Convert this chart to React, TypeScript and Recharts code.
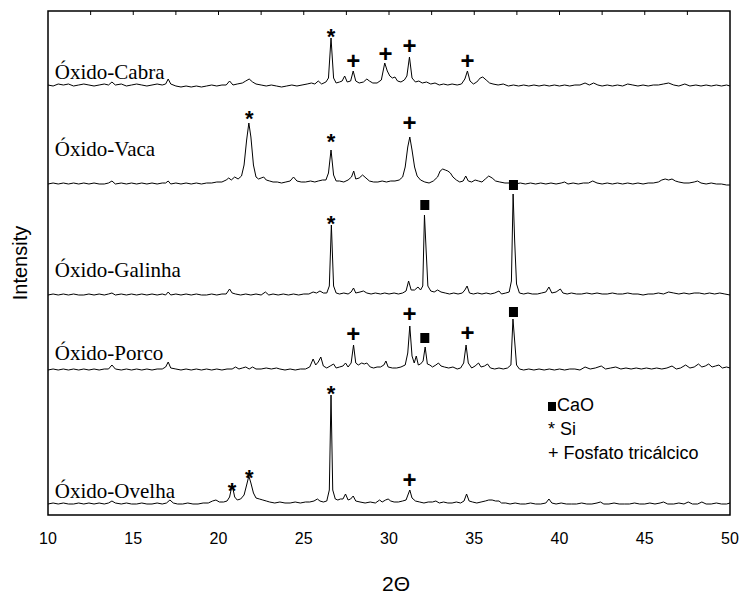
import React from 'react';
import { ComposedChart, Line, Scatter, XAxis, YAxis, ReferenceArea, ReferenceLine } from 'recharts';

// 2θ / intensity (a.u., above each pattern's own baseline)
const cabra = [
  [10.0,1],[10.3,0],[10.6,2],[10.9,1],[11.2,2],[11.5,0],[11.8,1],[12.1,2],[12.4,1],[12.7,0],[13.0,1],[13.3,2],[13.55,1],[13.75,4],[13.95,1],[14.3,2],[14.6,0],[14.9,1],[15.2,2],[15.5,1],[15.8,0],[16.1,1],[16.4,2],[16.7,1],[16.9,2],[17.05,7],[17.2,2],[17.5,0],[17.8,-1],[18.1,0],[18.4,-1],[18.7,0],[19.0,-1],[19.3,0],[19.6,1],[19.9,0],[20.2,1],[20.45,1],[20.65,5],[20.85,1],[21.1,2],[21.4,3],[21.6,5],[21.8,7],[22.0,4],[22.2,2],[22.5,1],[22.8,0],[23.1,1],[23.4,0],[23.7,-1],[24.0,0],[24.3,1],[24.6,0],[24.9,1],[25.2,2],[25.45,3],[25.65,2],[25.85,5],[26.05,2],[26.3,4],[26.45,8],[26.6,48],[26.75,8],[26.9,3],[27.1,4],[27.25,5],[27.4,10],[27.55,4],[27.75,5],[27.9,15],[28.05,5],[28.25,3],[28.5,4],[28.7,7],[28.85,5],[29.05,3],[29.3,3],[29.55,6],[29.75,23],[29.9,15],[30.05,10],[30.2,8],[30.35,9],[30.5,5],[30.7,4],[30.9,6],[31.05,10],[31.2,29],[31.35,8],[31.55,4],[31.75,5],[31.95,3],[32.2,4],[32.45,2],[32.7,3],[32.95,1],[33.2,2],[33.45,1],[33.7,2],[34.0,1],[34.25,2],[34.45,7],[34.6,15],[34.75,5],[34.95,2],[35.15,4],[35.35,8],[35.5,9],[35.7,6],[35.9,3],[36.1,2],[36.4,1],[36.7,2],[37.0,0],[37.3,1],[37.6,0],[37.9,1],[38.2,0],[38.5,1],[38.8,0],[39.1,1],[39.4,0],[39.7,1],[40.0,0],[40.3,1],[40.6,0],[40.9,1],[41.2,1],[41.5,3],[41.75,1],[42.0,3],[42.25,1],[42.5,0],[42.8,1],[43.1,0],[43.4,1],[43.7,0],[44.0,2],[44.3,1],[44.6,0],[44.9,1],[45.2,0],[45.5,1],[45.8,1],[46.1,2],[46.4,3],[46.7,1],[47.0,0],[47.35,2],[47.65,0],[48.0,1],[48.3,0],[48.6,1],[48.9,0],[49.2,1],[49.5,0],[49.8,1],[50.0,0],
];

const vaca = [
  [10.0,1],[10.3,2],[10.6,1],[10.9,2],[11.2,1],[11.5,2],[11.8,1],[12.1,2],[12.4,1],[12.7,2],[13.0,1],[13.3,1],[13.55,2],[13.75,4],[13.95,1],[14.3,2],[14.6,1],[14.9,2],[15.2,1],[15.5,2],[15.8,1],[16.1,2],[16.4,1],[16.7,2],[16.9,2],[17.05,4],[17.2,1],[17.5,2],[17.8,1],[18.1,2],[18.4,1],[18.7,2],[19.0,1],[19.3,2],[19.6,2],[19.9,3],[20.2,3],[20.45,5],[20.6,7],[20.75,5],[20.95,8],[21.15,6],[21.35,9],[21.5,20],[21.65,45],[21.78,62],[21.9,48],[22.05,20],[22.2,8],[22.35,6],[22.5,7],[22.65,8],[22.8,5],[23.0,4],[23.2,3],[23.45,3],[23.7,2],[23.95,3],[24.2,4],[24.4,8],[24.6,4],[24.85,3],[25.1,3],[25.4,4],[25.65,3],[25.85,4],[26.1,5],[26.3,5],[26.45,12],[26.6,35],[26.75,10],[26.9,4],[27.1,4],[27.35,3],[27.6,5],[27.8,8],[27.93,14],[28.05,6],[28.25,7],[28.45,10],[28.65,7],[28.85,4],[29.1,3],[29.35,3],[29.6,4],[29.85,3],[30.1,4],[30.35,4],[30.6,5],[30.8,8],[30.95,18],[31.1,38],[31.22,48],[31.35,35],[31.5,18],[31.65,9],[31.85,5],[32.1,3],[32.35,2],[32.6,4],[32.85,8],[33.0,14],[33.15,16],[33.3,15],[33.45,14],[33.6,12],[33.75,8],[33.95,5],[34.15,3],[34.35,4],[34.5,9],[34.65,4],[34.85,3],[35.05,5],[35.25,4],[35.45,3],[35.65,6],[35.85,9],[36.05,7],[36.25,4],[36.5,3],[36.8,2],[37.1,2],[37.4,1],[37.7,2],[38.0,1],[38.3,2],[38.6,1],[38.9,2],[39.2,1],[39.5,2],[39.8,1],[40.1,2],[40.3,3],[40.5,1],[40.8,2],[41.1,1],[41.4,2],[41.7,2],[41.95,4],[42.2,2],[42.5,1],[42.8,2],[43.1,1],[43.4,2],[43.7,1],[44.0,2],[44.3,1],[44.6,2],[44.9,1],[45.2,2],[45.5,2],[45.8,3],[46.0,5],[46.2,6],[46.4,5],[46.6,6],[46.8,4],[47.0,3],[47.3,2],[47.6,2],[47.9,3],[48.1,4],[48.3,2],[48.6,1],[48.9,2],[49.2,1],[49.5,1],[49.8,0],[50.0,0],
];

const galinha = [
  [10.0,1],[10.3,2],[10.6,1],[10.9,2],[11.2,1],[11.5,2],[11.8,1],[12.1,1],[12.4,2],[12.7,1],[13.0,2],[13.3,1],[13.55,2],[13.75,3],[13.95,1],[14.3,2],[14.6,1],[14.9,2],[15.2,1],[15.5,2],[15.8,1],[16.1,2],[16.4,1],[16.7,2],[16.9,1],[17.05,4],[17.2,1],[17.5,2],[17.8,1],[18.1,2],[18.4,1],[18.7,2],[19.0,1],[19.3,1],[19.6,2],[19.9,1],[20.2,2],[20.45,2],[20.65,7],[20.8,3],[21.0,2],[21.3,1],[21.6,2],[21.9,1],[22.2,2],[22.5,1],[22.75,4],[22.95,1],[23.2,2],[23.5,1],[23.8,2],[24.1,1],[24.4,2],[24.7,1],[25.0,2],[25.3,2],[25.55,4],[25.75,3],[25.95,5],[26.15,3],[26.35,3],[26.5,10],[26.62,71],[26.75,10],[26.9,3],[27.1,2],[27.35,3],[27.6,2],[27.78,4],[27.92,8],[28.05,3],[28.3,4],[28.5,5],[28.7,3],[28.95,2],[29.2,3],[29.5,2],[29.75,3],[30.0,2],[30.3,3],[30.55,2],[30.8,3],[31.0,5],[31.15,15],[31.3,6],[31.5,6],[31.7,9],[31.85,6],[31.98,10],[32.08,81],[32.18,45],[32.28,10],[32.45,5],[32.65,4],[32.85,6],[33.05,4],[33.3,3],[33.55,2],[33.8,3],[34.05,2],[34.3,3],[34.45,6],[34.58,10],[34.72,3],[34.95,2],[35.2,3],[35.45,2],[35.7,3],[35.95,2],[36.2,3],[36.45,5],[36.6,2],[36.85,3],[37.05,4],[37.18,15],[37.28,102],[37.37,55],[37.48,12],[37.65,3],[37.9,2],[38.15,3],[38.4,2],[38.7,2],[38.95,3],[39.2,4],[39.38,9],[39.55,3],[39.8,4],[40.05,7],[40.2,3],[40.45,2],[40.7,3],[41.0,2],[41.3,2],[41.6,3],[41.9,2],[42.2,3],[42.5,2],[42.8,2],[43.1,3],[43.4,2],[43.7,2],[44.0,3],[44.3,2],[44.6,2],[44.9,1],[45.2,2],[45.5,2],[45.8,3],[46.1,2],[46.4,4],[46.7,3],[47.0,2],[47.3,3],[47.6,2],[47.9,3],[48.2,3],[48.5,2],[48.8,3],[49.1,2],[49.4,3],[49.7,2],[50.0,1],
];

const porco = [
  [10.0,1],[10.3,2],[10.6,1],[10.9,2],[11.2,1],[11.5,2],[11.8,1],[12.1,2],[12.4,1],[12.7,2],[13.0,1],[13.3,2],[13.55,2],[13.75,6],[13.95,2],[14.3,1],[14.6,2],[14.9,1],[15.2,2],[15.5,1],[15.8,2],[16.1,1],[16.4,2],[16.7,2],[16.9,4],[17.05,9],[17.2,3],[17.5,2],[17.8,1],[18.1,2],[18.4,1],[18.7,2],[19.0,1],[19.3,2],[19.6,1],[19.9,2],[20.2,1],[20.5,2],[20.8,2],[21.0,4],[21.2,2],[21.4,3],[21.6,4],[21.8,2],[22.0,4],[22.2,2],[22.5,2],[22.8,3],[23.1,2],[23.4,3],[23.6,2],[23.9,1],[24.2,2],[24.5,1],[24.8,2],[25.1,2],[25.35,4],[25.55,12],[25.7,6],[25.85,9],[26.0,14],[26.15,5],[26.35,3],[26.55,5],[26.75,7],[26.9,3],[27.1,4],[27.3,5],[27.45,8],[27.6,4],[27.78,8],[27.92,26],[28.05,8],[28.2,6],[28.4,8],[28.55,7],[28.7,8],[28.9,4],[29.1,3],[29.3,4],[29.5,4],[29.7,6],[29.82,10],[29.95,4],[30.2,3],[30.45,3],[30.7,4],[30.95,6],[31.1,18],[31.22,45],[31.35,15],[31.48,8],[31.6,15],[31.72,6],[31.85,7],[32.0,10],[32.12,24],[32.25,7],[32.4,6],[32.55,4],[32.75,6],[32.9,8],[33.05,5],[33.25,4],[33.5,3],[33.75,4],[34.0,2],[34.2,3],[34.38,8],[34.52,26],[34.65,8],[34.85,3],[35.05,5],[35.25,8],[35.4,4],[35.6,5],[35.78,7],[35.95,3],[36.2,2],[36.45,3],[36.7,2],[36.95,3],[37.15,6],[37.27,52],[37.37,30],[37.48,6],[37.65,2],[37.9,1],[38.2,2],[38.5,1],[38.8,2],[39.1,1],[39.4,2],[39.7,1],[40.0,2],[40.3,1],[40.6,2],[40.9,2],[41.2,1],[41.5,4],[41.8,2],[42.1,3],[42.45,5],[42.7,2],[43.0,3],[43.3,4],[43.6,2],[43.9,3],[44.2,2],[44.5,3],[44.8,2],[45.1,3],[45.4,2],[45.7,3],[46.0,2],[46.3,3],[46.6,5],[46.85,2],[47.1,3],[47.4,6],[47.65,3],[47.9,4],[48.15,7],[48.35,4],[48.55,5],[48.75,7],[48.95,4],[49.15,5],[49.35,6],[49.55,3],[49.8,4],[50.0,3],
];

const ovelha = [
  [10.0,1],[10.3,2],[10.6,1],[10.9,2],[11.2,1],[11.5,1],[11.8,2],[12.1,1],[12.4,2],[12.7,1],[13.0,2],[13.3,1],[13.55,2],[13.75,4],[13.95,2],[14.3,1],[14.6,2],[14.9,1],[15.2,1],[15.5,2],[15.8,1],[16.1,1],[16.4,2],[16.7,1],[16.95,2],[17.15,5],[17.35,2],[17.6,1],[17.9,1],[18.2,2],[18.5,1],[18.8,1],[19.1,2],[19.4,2],[19.65,4],[19.85,5],[20.05,3],[20.3,3],[20.5,4],[20.65,8],[20.8,20],[20.95,8],[21.1,5],[21.3,6],[21.5,10],[21.65,20],[21.78,29],[21.9,22],[22.05,12],[22.2,7],[22.4,6],[22.6,5],[22.8,4],[23.0,3],[23.3,2],[23.6,3],[23.9,2],[24.2,2],[24.5,3],[24.8,2],[25.1,3],[25.35,3],[25.6,4],[25.8,6],[25.95,4],[26.15,3],[26.35,4],[26.5,15],[26.6,110],[26.7,15],[26.85,6],[27.0,5],[27.15,6],[27.3,6],[27.45,11],[27.6,5],[27.75,6],[27.9,9],[28.05,4],[28.3,3],[28.6,2],[28.9,3],[29.2,2],[29.45,5],[29.6,3],[29.8,5],[29.95,6],[30.1,4],[30.3,3],[30.55,3],[30.8,4],[31.0,5],[31.13,11],[31.22,15],[31.35,7],[31.55,4],[31.8,3],[32.05,2],[32.3,3],[32.55,3],[32.75,4],[32.95,2],[33.2,3],[33.45,2],[33.7,2],[33.95,3],[34.2,2],[34.4,4],[34.55,11],[34.7,4],[34.9,3],[35.15,2],[35.4,3],[35.65,4],[35.85,5],[36.05,5],[36.25,4],[36.45,4],[36.6,2],[36.85,2],[37.1,1],[37.4,2],[37.7,1],[38.0,1],[38.3,2],[38.6,1],[38.9,1],[39.2,2],[39.38,6],[39.55,2],[39.8,1],[40.1,2],[40.4,1],[40.7,1],[41.0,1],[41.3,2],[41.6,1],[41.9,1],[42.2,2],[42.4,3],[42.6,1],[42.9,1],[43.2,2],[43.5,1],[43.8,1],[44.1,1],[44.4,2],[44.7,1],[45.0,1],[45.3,2],[45.6,1],[45.9,2],[46.1,3],[46.35,1],[46.7,1],[47.0,2],[47.3,1],[47.55,3],[47.8,1],[48.1,1],[48.35,3],[48.6,1],[48.9,1],[49.2,2],[49.5,1],[49.8,1],[50.0,2],
];

const SAMPLES = ['Óxido-Cabra', 'Óxido-Vaca', 'Óxido-Galinha', 'Óxido-Porco', 'Óxido-Ovelha'];
const PATTERNS = [cabra, vaca, galinha, porco, ovelha];
// vertical stacking offset of each pattern
const OFFSETS = [429, 330, 219, 144, 10];
const LABEL_Y = [436, 359, 238, 155, 17];

// phase marks: 2θ, height on the stacked scale, symbol
const marks = [
  { x: 26.6, y: 487, s: '*' }, { x: 27.9, y: 455, s: '+' }, { x: 29.8, y: 462, s: '+' }, { x: 31.2, y: 470, s: '+' }, { x: 34.6, y: 455, s: '+' },
  { x: 21.8, y: 405, s: '*' }, { x: 26.6, y: 382, s: '*' }, { x: 31.2, y: 393, s: '+' },
  { x: 26.6, y: 300, s: '*' }, { x: 32.1, y: 310, s: '■' }, { x: 37.3, y: 330, s: '■' },
  { x: 27.9, y: 182, s: '+' }, { x: 31.2, y: 202, s: '+' }, { x: 32.1, y: 177, s: '■' }, { x: 34.6, y: 183, s: '+' }, { x: 37.3, y: 203, s: '■' },
  { x: 26.6, y: 130, s: '*' }, { x: 20.8, y: 33, s: '*' }, { x: 21.8, y: 46, s: '*' }, { x: 31.2, y: 36, s: '+' },
];

const LEGEND = [['■', 'CaO'], ['*', ' Si'], ['+', ' Fosfato tricálcico']];
const X_TICKS = [10, 15, 20, 25, 30, 35, 40, 45, 50];
const X_MINOR = [12.5, 15, 17.5, 20, 22.5, 25, 27.5, 30, 32.5, 35, 37.5, 40, 42.5, 45, 47.5];

const serif = '"Liberation Serif", "Times New Roman", serif';
const sans = '"Liberation Sans", Arial, sans-serif';

const MarkShape = (props: any) => {
  const { cx, cy, payload } = props;
  if (payload.s === '■') return <rect x={cx - 4.5} y={cy - 5} width={9} height={10} fill="#000" />;
  if (payload.s === '+')
    return (
      <text x={cx} y={cy} textAnchor="middle" dominantBaseline="central" fontFamily={sans} fontWeight="bold" fontSize={24}>+</text>
    );
  return (
    <text x={cx} y={cy + 8} textAnchor="middle" dominantBaseline="central" fontFamily={sans} fontWeight="bold" fontSize={22}>*</text>
  );
};

const LabelShape = (props: any) => {
  const { cx, cy, payload } = props;
  return (
    <text x={cx} y={cy} fontFamily={serif} fontSize={21} fill="#000">{payload.name}</text>
  );
};

export default function App() {
  const series = PATTERNS.map((p, i) => p.map(([x, h]) => ({ x, y: h + OFFSETS[i] })));
  const labels = SAMPLES.map((name, i) => ({ x: 10.4, y: LABEL_Y[i], name }));

  return (
    <div style={{ position: 'relative', width: 741, height: 610, background: '#fff' }}>
      <style>{'body{margin:0}'}</style>
      <ComposedChart width={741} height={610} margin={{ top: 11, right: 11, left: 48, bottom: 65 }}>
        <XAxis
          type="number"
          dataKey="x"
          domain={[10, 50]}
          allowDataOverflow
          ticks={X_TICKS}
          height={30}
          tickLine={false}
          tickMargin={12}
          axisLine={false}
          tick={{ fill: '#000', fontFamily: sans, fontSize: 16 }}
        />
        <YAxis type="number" domain={[0, 504]} allowDataOverflow hide />
        <ReferenceArea x1={10} x2={50} y1={0} y2={504} fill="none" stroke="#000" strokeWidth={1.5} />
        {X_MINOR.map((t) => (
          <ReferenceLine key={t} segment={[{ x: t, y: 504 }, { x: t, y: 500 }]} stroke="#000" strokeWidth={1} />
        ))}
        {series.map((d, i) => (
          <Line
            key={SAMPLES[i]}
            data={d}
            dataKey="y"
            type="linear"
            stroke="#000"
            strokeWidth={1}
            dot={false}
            isAnimationActive={false}
          />
        ))}
        <Scatter data={marks} dataKey="y" shape={MarkShape} isAnimationActive={false} />
        <Scatter data={labels} dataKey="y" shape={LabelShape} isAnimationActive={false} />
      </ComposedChart>
      <div style={{ position: 'absolute', left: 548, top: 393, fontFamily: sans, fontSize: 18, lineHeight: '24px', color: '#000' }}>
        {LEGEND.map(([sym, txt]) => (
          <div key={txt} style={{ whiteSpace: 'pre' }}>
            {sym === '■' ? (
              <span style={{ display: 'inline-block', width: 8, height: 9, background: '#000', marginRight: 1 }} />
            ) : (
              sym
            )}
            {txt}
          </div>
        ))}
      </div>
      <div
        style={{
          position: 'absolute', left: -40, top: 251, width: 120, textAlign: 'center',
          transform: 'rotate(-90deg)', fontFamily: sans, fontSize: 20, lineHeight: '24px', color: '#000',
        }}
      >
        Intensity
      </div>
      <div style={{ position: 'absolute', left: 346, top: 572, width: 100, textAlign: 'center', fontFamily: sans, fontSize: 21, color: '#000' }}>
        2Θ
      </div>
    </div>
  );
}
